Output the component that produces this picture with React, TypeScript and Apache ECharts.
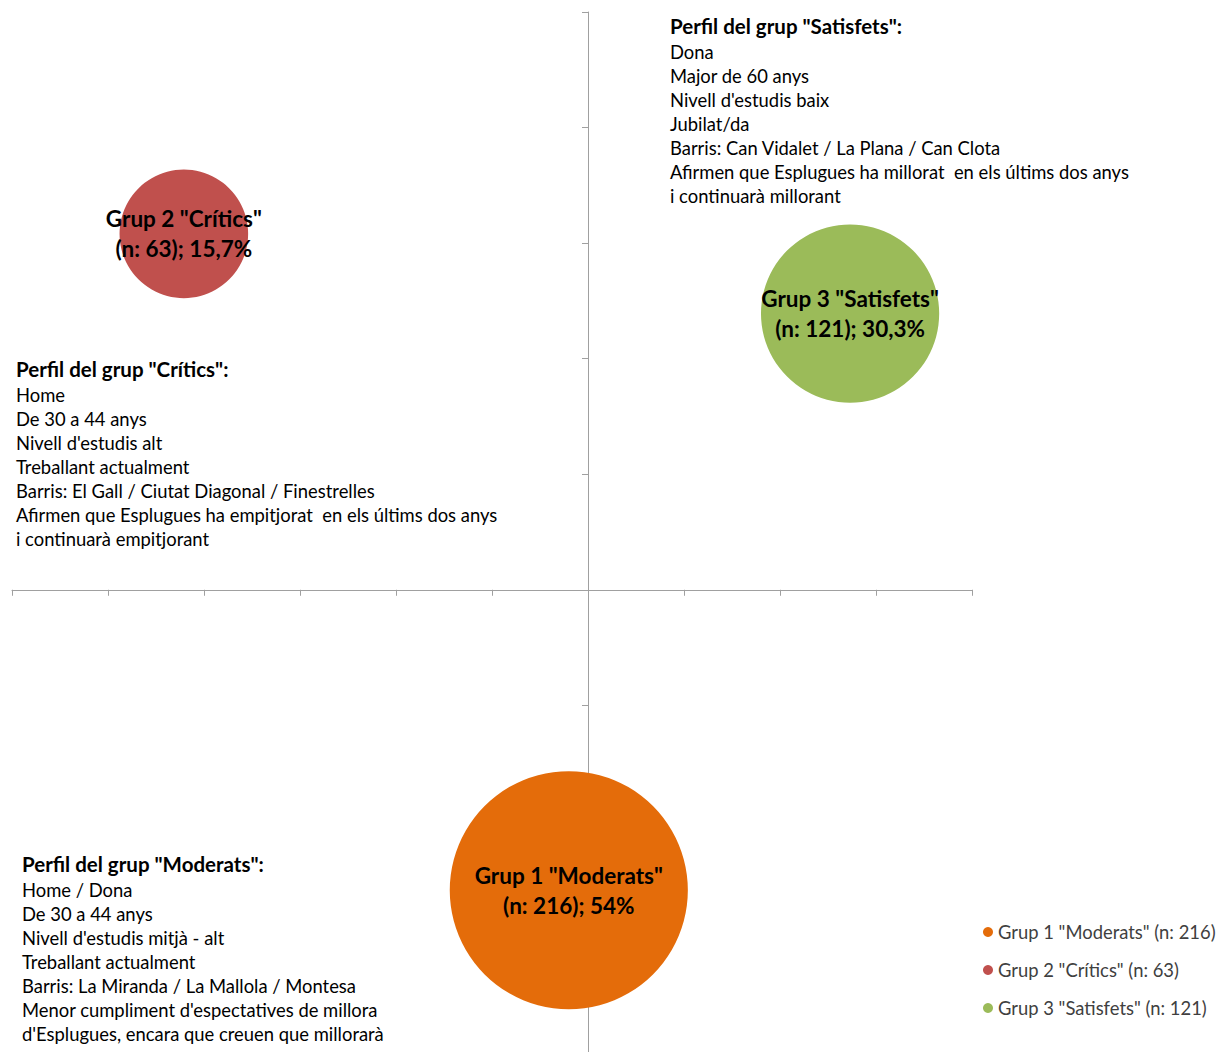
import React, { useEffect, useRef } from "react";
import * as echarts from "echarts";

const groupNames = ['Grup 1 "Moderats"', 'Grup 2 "Crítics"', 'Grup 3 "Satisfets"'];
const nValues = [216, 63, 121];
const percents = ["54%", "15,7%", "30,3%"];
const xValues = [-0.2, -4.21, 2.73];
const yValues = [-2.6, 3.08, 2.39];
const colors = ["#E46C0A", "#C0504D", "#9BBB59"];

const xMin = -6;
const xMax = 4;
const yMin = -4;
const yMax = 5;

const profileCritics = [
  "Home",
  "De 30 a 44 anys",
  "Nivell d'estudis alt",
  "Treballant actualment",
  "Barris: El Gall / Ciutat Diagonal / Finestrelles",
  "Afirmen que Esplugues ha empitjorat  en els últims dos anys",
  "i continuarà empitjorant",
];
const profileSatisfets = [
  "Dona",
  "Major de 60 anys",
  "Nivell d'estudis baix",
  "Jubilat/da",
  "Barris: Can Vidalet / La Plana / Can Clota",
  "Afirmen que Esplugues ha millorat  en els últims dos anys",
  "i continuarà millorant",
];
const profileModerats = [
  "Home / Dona",
  "De 30 a 44 anys",
  "Nivell d'estudis mitjà - alt",
  "Treballant actualment",
  "Barris: La Miranda / La Mallola / Montesa",
  "Menor cumpliment d'espectatives de millora",
  "d'Esplugues, encara que creuen que millorarà",
];

const FONT = "Lato, 'Noto Sans', sans-serif";
const AXIS_COLOR = "#a0a0a0";

function profileBlock(title: string, lines: string[], x: number, yTitle: number) {
  return [
    {
      type: "text",
      left: x,
      top: yTitle - 12,
      style: {
        text: title,
        font: `bold 20.5px ${FONT}`,
        fill: "#000000",
        lineHeight: 24,
      },
    },
    {
      type: "text",
      left: x,
      top: yTitle + 14,
      style: {
        text: lines.join("\n"),
        font: `18.4px ${FONT}`,
        fill: "#000000",
        lineHeight: 24,
      },
    },
  ];
}

export default function App() {
  const ref = useRef<HTMLDivElement>(null);
  useEffect(() => {
    if (!ref.current) return;
    const chart = echarts.init(ref.current, null, { renderer: "svg" });
    const series = groupNames.map((g, i) => ({
      type: "scatter",
      name: `${g} (n: ${nValues[i]})`,
      data: [[xValues[i], yValues[i], nValues[i]]],
      symbol: "circle",
      symbolSize: (v: number[]) => 16.2 * Math.sqrt(v[2]),
      itemStyle: { color: colors[i], opacity: 1 },
      emphasis: { disabled: true },
      label: {
        show: true,
        position: "inside",
        formatter: `${g}\n(n: ${nValues[i]}); ${percents[i]}`,
        fontFamily: FONT,
        fontWeight: "bold",
        fontSize: 22.5,
        lineHeight: 30,
        color: "#000000",
        align: "center",
      },
    }));
    const axisCommon = {
      type: "value",
      axisLabel: { show: false },
      splitLine: { show: false },
      axisLine: { show: true, onZero: true, lineStyle: { color: AXIS_COLOR, width: 1 } },
      axisTick: { show: true, inside: false, length: 6, lineStyle: { color: AXIS_COLOR } },
    };
    chart.setOption({
      animation: false,
      backgroundColor: "#ffffff",
      grid: { left: 12, top: 12, width: 960, height: 1044 },
      xAxis: { ...axisCommon, min: xMin, max: xMax, interval: 1 },
      yAxis: { ...axisCommon, min: yMin, max: yMax, interval: 1 },
      legend: {
        orient: "vertical",
        left: 978,
        top: 918,
        icon: "circle",
        itemWidth: 10,
        itemHeight: 10,
        itemGap: 20,
        textStyle: { fontFamily: FONT, fontSize: 18.4, lineHeight: 18, color: "#404040" },
        data: series.map((s) => s.name),
      },
      series,
      graphic: [
        ...profileBlock('Perfil del grup "Satisfets":', profileSatisfets, 670, 26),
        ...profileBlock('Perfil del grup "Crítics":', profileCritics, 16, 369),
        ...profileBlock('Perfil del grup "Moderats":', profileModerats, 22, 864),
      ],
    });
    return () => chart.dispose();
  }, []);
  return (
    <div
      ref={ref}
      style={{ position: "absolute", left: 0, top: 0, width: 1218, height: 1052 }}
    />
  );
}
